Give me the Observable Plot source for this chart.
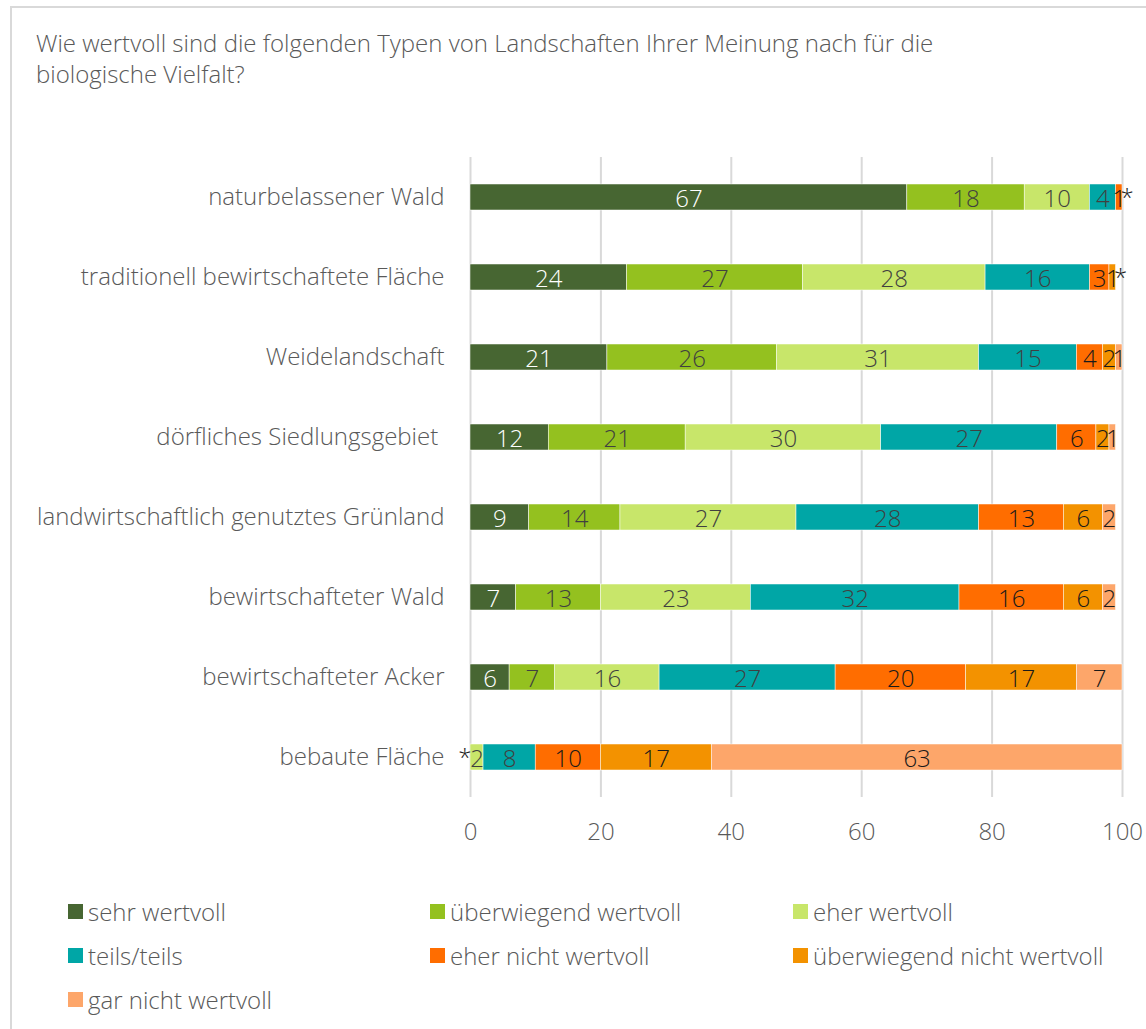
<!DOCTYPE html>
<html>
<head>
<meta charset="utf-8">
<script src="https://cdn.jsdelivr.net/npm/d3@7"></script>
<script src="https://cdn.jsdelivr.net/npm/@observablehq/plot@0.6"></script>
<style>
  html, body { margin: 0; padding: 0; background: #fff; overflow: hidden; width: 1146px; height: 1029px; }
  body { font-family: "Open Sans", sans-serif; font-weight: 300; color: #595959; position: relative; }
  #frame { position: absolute; left: 10px; top: 6px; width: 1300px; height: 1200px; border-top: 2px solid #d9d9d9; border-left: 2px solid #d9d9d9; }
  #title { position: absolute; left: 36px; top: 27px; font-size: 24px; line-height: 31px; color: #595959; white-space: nowrap; }
  #chart { position: absolute; left: 0; top: 100px; }
  #legend { position: absolute; left: 68px; top: 896px; display: grid; grid-template-columns: 362px 363px 300px; row-gap: 14px; }
  .item { display: flex; align-items: center; font-size: 24px; height: 30px; white-space: nowrap; }
  .sw { width: 15px; height: 15px; margin-right: 5px; flex: none; }
</style>
</head>
<body>
<div id="frame"></div>
<div id="title">Wie wertvoll sind die folgenden Typen von Landschaften Ihrer Meinung nach für die<br>biologische Vielfalt?</div>
<div id="chart"></div>
<div id="legend"></div>
<script>
const categories = [
  "naturbelassener Wald",
  "traditionell bewirtschaftete Fläche",
  "Weidelandschaft",
  "dörfliches Siedlungsgebiet\u00a0",
  "landwirtschaftlich genutztes Grünland",
  "bewirtschafteter Wald",
  "bewirtschafteter Acker",
  "bebaute Fläche"
];
const levels = [
  "sehr wertvoll",
  "überwiegend wertvoll",
  "eher wertvoll",
  "teils/teils",
  "eher nicht wertvoll",
  "überwiegend nicht wertvoll",
  "gar nicht wertvoll"
];
const colors = ["#476632", "#94c11f", "#c8e66a", "#00a6a6", "#ff6d00", "#f39200", "#fda66a"];
const labelColors = ["#ffffff", "#404040", "#404040", "#404040", "#1a1a1a", "#1a1a1a", "#1a1a1a"];

const sehrWertvoll          = [67, 24, 21, 12,  9,  7,  6,  0];
const ueberwiegendWertvoll  = [18, 27, 26, 21, 14, 13,  7,  0];
const eherWertvoll          = [10, 28, 31, 30, 27, 23, 16,  2];
const teilsTeils            = [ 4, 16, 15, 27, 28, 32, 27,  8];
const eherNichtWertvoll     = [ 1,  3,  4,  6, 13, 16, 20, 10];
const ueberwiegendNicht     = [ 0,  1,  2,  2,  6,  6, 17, 17];
const garNichtWertvoll      = [ 0,  0,  1,  1,  2,  2,  7, 63];
const series = [sehrWertvoll, ueberwiegendWertvoll, eherWertvoll, teilsTeils, eherNichtWertvoll, ueberwiegendNicht, garNichtWertvoll];

// rows with "*" (value below 0.5) marks
const starsRight = ["naturbelassener Wald", "traditionell bewirtschaftete Fläche"];
const starsLeft = ["bebaute Fläche"];
const xTicks = [0, 20, 40, 60, 80, 100];

const data = [];
categories.forEach((c, i) => {
  levels.forEach((l, j) => {
    data.push({cat: c, level: l, li: j, value: series[j][i]});
  });
});
const totals = categories.map((c, i) => ({cat: c, total: d3.sum(series, s => s[i])}));
const rightStarData = totals.filter(d => starsRight.includes(d.cat));
const leftStarData = totals.filter(d => starsLeft.includes(d.cat)).map(d => ({cat: d.cat, x: 0}));

const chart = Plot.plot({
  width: 1146,
  height: 760,
  marginLeft: 470,
  marginRight: 24,
  marginTop: 57,
  marginBottom: 63,
  style: {fontFamily: "Open Sans, sans-serif", fontWeight: 300, fontSize: "24px", color: "#595959", background: "transparent", overflow: "visible"},
  x: {domain: [0, 100], ticks: xTicks, tickSize: 0, tickPadding: 25, label: null},
  y: {domain: categories, padding: 0, tickSize: 0, tickPadding: 26, label: null},
  color: {type: "identity"},
  marks: [
    Plot.ruleX(xTicks, {stroke: "#d9d9d9", strokeWidth: 2}),
    Plot.barX(data, Plot.stackX({x: "value", y: "cat", z: "li", order: null, fill: d => colors[d.li], stroke: "#ffffff", strokeWidth: 0.5, insetTop: 27, insetBottom: 27})),
    Plot.text(data, Plot.stackX({x: "value", y: "cat", z: "li", order: null, text: d => d.value > 0 ? String(d.value) : "", fill: d => labelColors[d.li], fontSize: 24, dy: 2})),
    Plot.text(rightStarData, {x: "total", y: "cat", text: () => "*", textAnchor: "start", dx: -2, fill: "#1a1a1a", fontSize: 24, dy: 1}),
    Plot.text(leftStarData, {x: "x", y: "cat", text: () => "*", textAnchor: "end", dx: 1, fill: "#1a1a1a", fontSize: 24, dy: 1})
  ]
});
document.getElementById("chart").appendChild(chart);

const legend = document.getElementById("legend");
levels.forEach((l, j) => {
  const it = document.createElement("div");
  it.className = "item";
  const sw = document.createElement("span");
  sw.className = "sw";
  sw.style.background = colors[j];
  const tx = document.createElement("span");
  tx.textContent = l;
  it.appendChild(sw);
  it.appendChild(tx);
  legend.appendChild(it);
});
</script>
</body>
</html>
